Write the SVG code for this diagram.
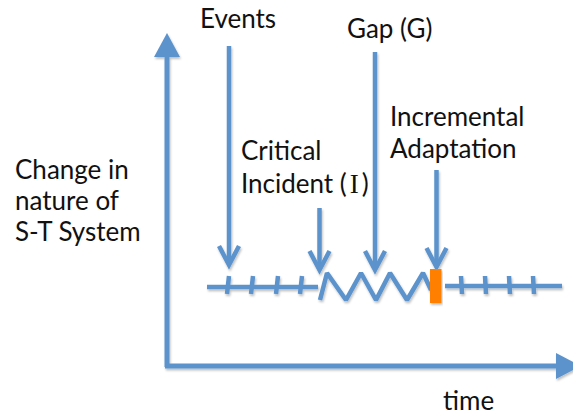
<svg xmlns="http://www.w3.org/2000/svg" width="573" height="415" viewBox="0 0 573 415">
<style>
.t{font-family:Lato,"Open Sans","Liberation Sans",sans-serif;font-size:26px;fill:#111}
.ln{stroke:#5b93cd;stroke-width:4.5;fill:none}
.ax{stroke:#5b93cd;stroke-width:5;fill:none}
.hd{stroke:#5b93cd;stroke-width:4.5;fill:none;stroke-linejoin:miter}
.fh{fill:#5b93cd}
</style>
<defs>
<filter id="sh" x="-10%" y="-10%" width="120%" height="130%">
<feDropShadow dx="1" dy="2" stdDeviation="1.2" flood-color="#000" flood-opacity="0.25"/>
</filter>
</defs>
<g id="connectors" filter="url(#sh)">
<g id="y-axis">
<line class="ax" x1="167" y1="367" x2="167" y2="55"/>
<polygon class="fh" points="167,33 180,57 154,57"/>
</g>
<g id="x-axis">
<line class="ax" x1="165" y1="366" x2="558" y2="366"/>
<polygon class="fh" points="581,366 556,353 556,379"/>
</g>
<g id="arrow-events">
<line class="ln" x1="229" y1="46" x2="229" y2="263"/>
<polyline class="hd" points="219,246 229,265 239,246"/>
</g>
<g id="arrow-critical">
<line class="ln" x1="319.5" y1="208" x2="319.5" y2="269"/>
<polyline class="hd" points="309.5,251 319.5,270 329.5,251"/>
</g>
<g id="arrow-gap">
<line class="ln" x1="375" y1="52" x2="375" y2="268"/>
<polyline class="hd" points="365,251 375,270 385,251"/>
</g>
<g id="arrow-adaptation">
<line class="ln" x1="436.5" y1="170" x2="436.5" y2="265"/>
<polyline class="hd" points="426.5,248 436.5,267 446.5,248"/>
</g>
</g>
<g id="timeline" filter="url(#sh)">
<line class="ln" x1="207" y1="287" x2="318" y2="287"/>
<line class="ln" x1="227" y1="294" x2="229" y2="276"/>
<line class="ln" x1="251" y1="294" x2="253" y2="276"/>
<line class="ln" x1="276" y1="294" x2="278" y2="276"/>
<line class="ln" x1="300" y1="294" x2="302" y2="276"/>
<polyline class="ln" stroke-width="5" stroke-linejoin="bevel" points="320,300 327,273 346,300 361,273 376,300 390,273 407,300 423,273 431,290"/>
<line class="ln" x1="445" y1="286" x2="562" y2="286"/>
<line class="ln" x1="461" y1="276" x2="462" y2="294"/>
<line class="ln" x1="485" y1="276" x2="486" y2="294"/>
<line class="ln" x1="509" y1="276" x2="510" y2="294"/>
<line class="ln" x1="533" y1="276" x2="534" y2="294"/>
</g>
<g id="incremental-marker" filter="url(#sh)">
<rect x="430" y="269" width="11.5" height="34" fill="#ff8000"/>
</g>
<g id="label-events"><text class="t" x="200" y="28">Events</text></g>
<g id="label-gap"><text class="t" x="347" y="38">Gap (G)</text></g>
<g id="label-critical"><text class="t" x="241" y="160">Critical</text><text class="t" x="241" y="193">Incident (<tspan dx="3" font-size="27" font-family="'Liberation Serif',serif">I</tspan><tspan dx="3">)</tspan></text></g>
<g id="label-adaptation"><text class="t" x="390" y="126">Incremental</text><text class="t" x="390" y="158">Adaptation</text></g>
<g id="label-yaxis"><text class="t" x="15" y="179">Change in</text><text class="t" x="15" y="210">nature of</text><text class="t" x="15" y="241">S-T System</text></g>
<g id="label-time"><text class="t" x="443" y="410">time</text></g>
</svg>
